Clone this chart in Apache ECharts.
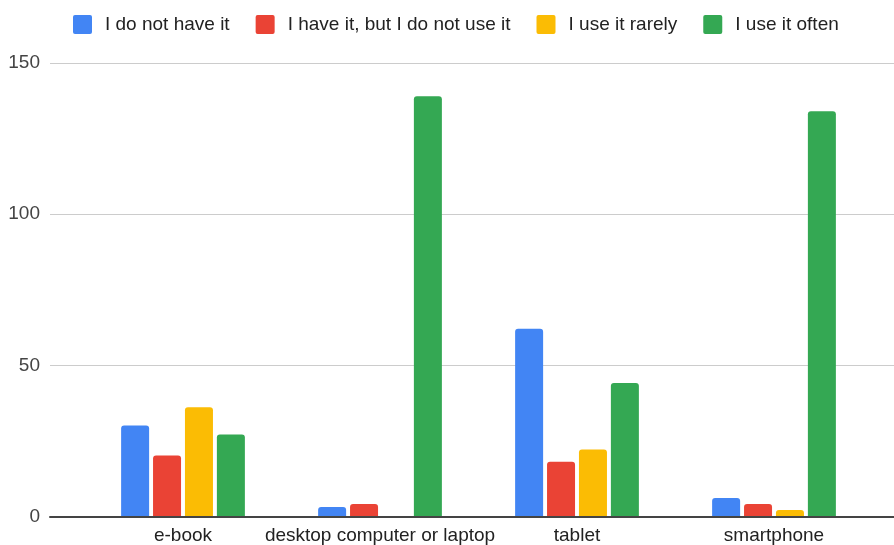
<!DOCTYPE html>
<html>
<head>
<meta charset="utf-8">
<script src="https://cdn.jsdelivr.net/npm/echarts@6/dist/echarts.min.js"></script>
<style>
  html, body { margin: 0; padding: 0; background: #fff; }
  #chart { width: 894px; height: 545px; }
</style>
</head>
<body>
<div id="chart"></div>
<script>
// Devices and how respondents use them
const categories = ['e-book', 'desktop computer or laptop', 'tablet', 'smartphone'];
const seriesNames = ['I do not have it', 'I have it, but I do not use it', 'I use it rarely', 'I use it often'];
const doNotHave = [30, 3, 62, 6];
const haveNotUse = [20, 4, 18, 4];
const useRarely = [36, 0, 22, 2];
const useOften = [27, 139, 44, 134];
const yTicks = [0, 50, 100, 150];

const colors = ['#4285F4', '#EA4335', '#FBBC04', '#34A853'];
const values = [doNotHave, haveNotUse, useRarely, useOften];
const FONT = '"Liberation Sans", Arial, sans-serif';
const SQUARE = 'path://M2,0 H17 A2,2 0 0 1 19,2 V17 A2,2 0 0 1 17,19 H2 A2,2 0 0 1 0,17 V2 A2,2 0 0 1 2,0 Z';

const chart = echarts.init(document.getElementById('chart'));

const gridTop = 63, gridBottom = 28.5;

chart.setOption({
  animation: false,
  color: colors,
  legend: {
    top: 15,
    left: 73,
    padding: 0,
    itemWidth: 19,
    itemHeight: 19,
    itemGap: 26,
    icon: SQUARE,
    textStyle: { fontFamily: FONT, fontSize: 19, color: '#222', padding: [0, 0, 0, 8] },
    data: seriesNames
  },
  grid: [
    // bars
    { left: 84.5, right: 21.5, top: gridTop, bottom: gridBottom },
    // full-width gridlines, tick labels and baseline
    { left: 50, right: 0, top: gridTop, bottom: gridBottom }
  ],
  xAxis: [
    {
      gridIndex: 0,
      type: 'category',
      data: categories,
      axisLine: { show: false },
      axisTick: { show: false },
      axisLabel: { interval: 0, fontFamily: FONT, fontSize: 19, color: '#222', margin: 10 }
    },
    {
      gridIndex: 1,
      type: 'value',
      min: 0, max: 1,
      axisLine: { show: true, onZero: false, lineStyle: { color: '#444', width: 2 } },
      axisTick: { show: false },
      axisLabel: { show: false },
      splitLine: { show: false }
    }
  ],
  yAxis: [
    {
      gridIndex: 0,
      type: 'value',
      min: yTicks[0], max: yTicks[yTicks.length - 1], interval: 50,
      axisLine: { show: false },
      axisTick: { show: false },
      axisLabel: { show: false },
      splitLine: { show: false }
    },
    {
      gridIndex: 1,
      type: 'value',
      min: yTicks[0], max: yTicks[yTicks.length - 1], interval: 50,
      axisLine: { show: false },
      axisTick: { show: false },
      axisLabel: { fontFamily: FONT, fontSize: 19, color: '#444', margin: 10 },
      splitLine: { show: true, lineStyle: { color: '#cccccc', width: 1 } }
    }
  ],
  series: seriesNames.map((name, i) => ({
    name: name,
    type: 'bar',
    xAxisIndex: 0,
    yAxisIndex: 0,
    barWidth: 28,
    barGap: '14%',
    data: values[i],
    itemStyle: { color: colors[i], borderRadius: [3, 3, 0, 0] }
  }))
});
</script>
</body>
</html>
